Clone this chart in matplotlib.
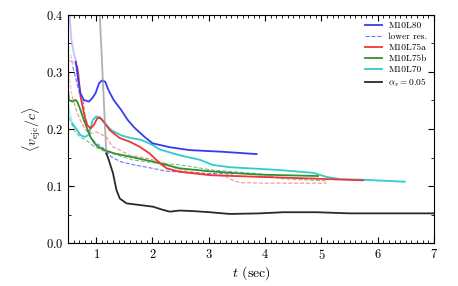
import numpy as np
import matplotlib
matplotlib.use("Agg")
import matplotlib.pyplot as plt
from matplotlib.ticker import MultipleLocator

plt.rcParams['font.family'] = ['cmr10', 'DejaVu Serif']
plt.rcParams['mathtext.fontset'] = 'cm'
plt.rcParams['axes.formatter.use_mathtext'] = True

# ---- data (t in sec, <v_ej/c>) ----
t_L80 = [0.50, 0.56, 0.60, 0.64, 0.68, 0.72, 0.78, 0.87, 0.93, 0.99, 1.05, 1.10, 1.16, 1.22,
         1.31, 1.447, 1.559, 1.683, 1.861, 2.0, 2.13, 2.31, 2.66, 3.25, 3.85]
v_L80 = [0.44, 0.356, 0.335, 0.318, 0.286, 0.263, 0.251, 0.248, 0.254, 0.263, 0.280, 0.285, 0.283, 0.268,
         0.251, 0.233, 0.216, 0.202, 0.186, 0.175, 0.172, 0.168, 0.163, 0.160, 0.156]

t_L80lr = [0.55, 0.585, 0.66, 0.705, 0.753, 0.78, 0.81, 0.84, 0.90, 1.0, 1.11, 1.27, 1.45, 1.68, 1.95, 2.25,
           2.61, 3.02, 3.43]
v_L80lr = [0.33, 0.309, 0.28, 0.262, 0.257, 0.239, 0.216, 0.198, 0.185, 0.175, 0.168, 0.151, 0.142, 0.137, 0.132,
           0.126, 0.124, 0.122, 0.121]

t_L75a = [0.50, 0.59, 0.66, 0.681, 0.722, 0.781, 0.842, 0.90, 0.959, 1.02, 1.078, 1.137, 1.24, 1.42, 1.59,
          1.77, 1.95, 2.13, 2.25, 2.48, 3.02, 3.91, 4.86, 5.74]
v_L75a = [0.32, 0.318, 0.31, 0.298, 0.257, 0.228, 0.207, 0.201, 0.207, 0.219, 0.219, 0.213, 0.198, 0.184, 0.178,
          0.169, 0.157, 0.140, 0.131, 0.125, 0.119, 0.116, 0.113, 0.110]

t_L75alr = [0.514, 0.545, 0.575, 0.64, 0.72, 0.81, 0.90, 1.0, 1.06, 1.18, 1.29, 1.42, 1.59, 1.89, 2.22, 2.48,
            3.02, 3.30, 3.40, 3.55, 4.0, 5.09]
v_L75alr = [0.298, 0.274, 0.257, 0.235, 0.215, 0.198, 0.192, 0.195, 0.192, 0.186, 0.169, 0.163, 0.154, 0.149, 0.140,
            0.128, 0.120, 0.117, 0.111, 0.106, 0.105, 0.105]

t_L75b = [0.5, 0.514, 0.575, 0.633, 0.664, 0.722, 0.78, 0.84, 0.90, 0.97, 1.03, 1.15, 1.33, 1.62, 2.0, 2.48,
          3.0, 3.4, 3.9, 4.94]
v_L75b = [0.271, 0.251, 0.248, 0.251, 0.248, 0.233, 0.216, 0.201, 0.186, 0.175, 0.169, 0.163, 0.157, 0.151, 0.143,
          0.131, 0.126, 0.123, 0.120, 0.1175]

t_L75blr = [0.5, 0.514, 0.575, 0.633, 0.72, 0.85, 0.97, 1.09, 1.29, 1.64, 2.0, 2.49, 3.07, 3.96, 4.26, 5.09]
v_L75blr = [0.23, 0.222, 0.207, 0.195, 0.186, 0.178, 0.169, 0.163, 0.157, 0.146, 0.141, 0.137, 0.128, 0.121, 0.113,
            0.109]

t_L70 = [0.5, 0.575, 0.664, 0.722, 0.80, 0.87, 0.94, 1.0, 1.06, 1.15, 1.27, 1.44, 1.62, 1.8, 2.0, 2.13, 2.48, 2.84,
         3.07, 3.37, 4.26, 4.86, 5.09, 5.33, 5.74, 6.48]
v_L70 = [0.245, 0.21, 0.198, 0.189, 0.186, 0.19, 0.216, 0.222, 0.221, 0.21, 0.198, 0.189, 0.184, 0.181, 0.172,
         0.164, 0.154, 0.146, 0.137, 0.133, 0.128, 0.123, 0.116, 0.112, 0.111, 0.1075]

t_alpha = [1.05, 1.18, 1.21, 1.30, 1.36, 1.42, 1.54, 1.77, 2.01, 2.19, 2.31, 2.48, 2.72, 3.02, 3.37, 3.91,
           4.32, 4.92, 5.51, 7.0]
v_alpha = [0.43, 0.157, 0.150, 0.122, 0.093, 0.078, 0.0695, 0.0667, 0.0637, 0.058, 0.055, 0.057, 0.056, 0.054,
           0.051, 0.052, 0.054, 0.054, 0.052, 0.052]

labels = ['M10L80', 'lower res.', 'M10L75a', 'M10L75b', 'M10L70', r'$\alpha_v = 0.05$']

fig = plt.figure(figsize=(4.58, 2.86), dpi=100)
ax = fig.add_axes([0.1485, 0.1503, 0.7991, 0.7973])


def draw(t, v, color, fade_until, lw, ls='-', alpha=1.0, fade_alpha=0.3, label=None, fade_color=None):
    t = np.asarray(t)
    v = np.asarray(v)
    if fade_until is not None:
        m = t <= fade_until
        k = np.count_nonzero(m)
        ax.plot(t[:k], v[:k], color=fade_color or color, lw=lw, ls=ls, alpha=fade_alpha)
        t, v = t[k - 1:], v[k - 1:]
    ax.plot(t, v, color=color, lw=lw, ls=ls, alpha=alpha, label=label)


blue = '#3a3af0'
red = '#f03535'
green = '#2e922e'
cyan = '#2ecccc'
black = '#2a2a2a'

draw(t_L80lr, v_L80lr, blue, 0.6, 0.8, ls='--', alpha=0.7, label=labels[1])
draw(t_L75alr, v_L75alr, red, 0.58, 0.8, ls='--', alpha=0.55)
draw(t_L75blr, v_L75blr, green, None, 0.8, ls='--', alpha=0.6)
draw(t_L70, v_L70, cyan, 0.58, 1.3, label=labels[4])
draw(t_L75b, v_L75b, green, None, 1.3, label=labels[3])
draw(t_L75a, v_L75a, red, 0.66, 1.3, label=labels[2])
draw(t_L80, v_L80, blue, 0.64, 1.3, label=labels[0])
draw(t_alpha, v_alpha, black, 1.18, 1.3, label=labels[5], fade_color='#909090', fade_alpha=0.7)

ax.set_xlim(0.5, 7)
ax.set_ylim(0, 0.4)
ax.xaxis.set_major_locator(MultipleLocator(1))
ax.xaxis.set_minor_locator(MultipleLocator(0.1))
ax.yaxis.set_major_locator(MultipleLocator(0.1))
ax.yaxis.set_minor_locator(MultipleLocator(0.05))
ax.tick_params(which='both', direction='in', top=True, right=True, labelsize=9)
ax.tick_params(which='major', length=4, width=0.8)
ax.tick_params(which='minor', length=2, width=0.6)
ax.set_xlabel(r'$t$ (sec)', fontsize=10, labelpad=2)
ax.set_ylabel(r'$\langle v_{\rm ejc}/c\rangle$', fontsize=10, labelpad=2)

h, l = ax.get_legend_handles_labels()
order = [l.index(x) for x in labels]
ax.legend([h[i] for i in order], [l[i] for i in order], loc='upper right', frameon=False, fontsize=6.8,
          handlelength=1.8, handletextpad=0.7, labelspacing=0.25, borderaxespad=0.3)

fig.savefig('out.png', dpi=100)
